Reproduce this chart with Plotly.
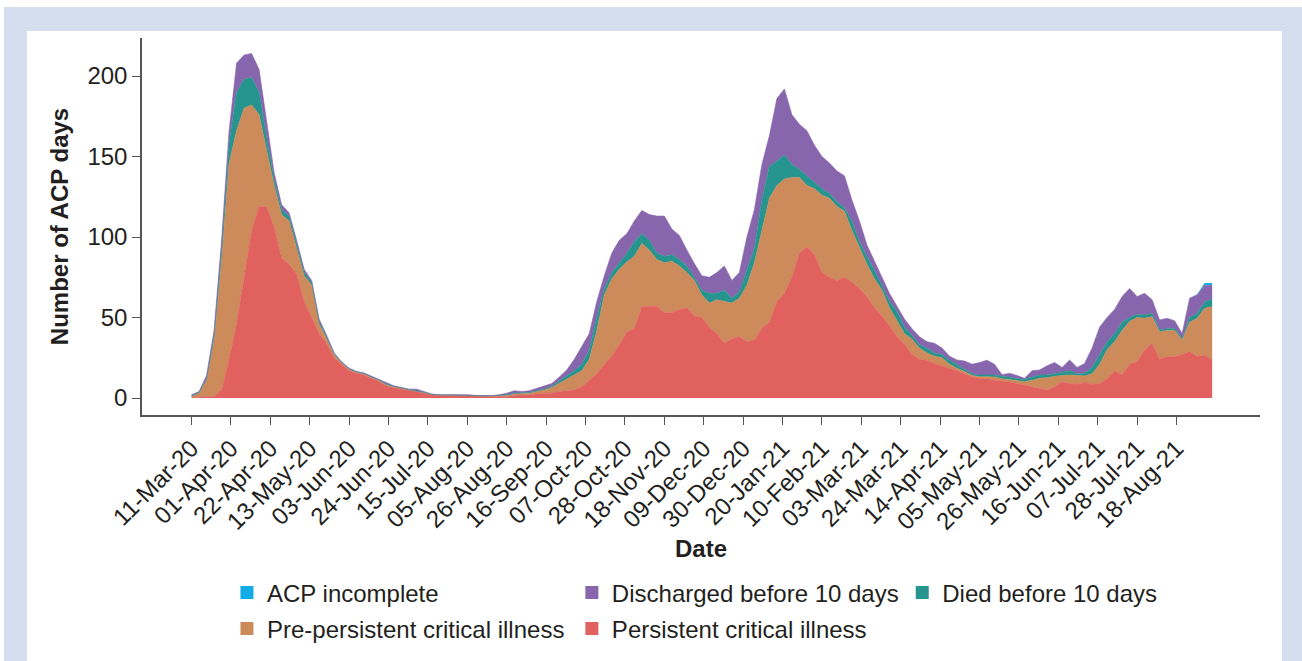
import pandas as pd
import plotly.graph_objects as go

start_date = "2020-03-11"
n_points = 137
dates = pd.date_range(start=start_date, periods=n_points, freq="4D")

persistent = [0.5, 0.5, 1, 1, 5, 24, 46, 74, 104, 119, 119, 106, 87, 83, 77, 60, 50, 40, 34, 25,
              21, 17, 15.3, 14.3, 12.2, 10.1, 7.4, 6.4, 5.4, 4.6, 4, 3, 1.8, 1.5, 1.5, 1.5, 1.5, 1.5, 1.2, 1,
              1, 1, 1, 1.5, 2, 2, 2.5, 3, 3, 4, 4.5, 5, 7, 11, 15, 21, 26, 33, 41, 43,
              57, 57, 57, 53, 53, 55, 56, 51, 50, 44, 40, 34, 37, 38, 35, 36, 43.5, 47, 60, 65,
              75, 90, 94, 89, 78, 75, 73, 75, 72, 68, 63, 56, 51, 45, 38, 33.5, 27, 24, 23.5, 21.5,
              20, 18.5, 17, 15, 13, 12.2, 12, 11, 10.5, 10, 9, 8, 7, 6, 5, 7, 10, 9, 8.5, 9.5,
              8.5, 9, 12, 17, 14.5, 21, 22.5, 30, 34, 24, 25.7, 25.7, 27, 29, 25.7, 26.7, 23.6]
pre_persistent = [0.5, 2.5, 10, 35, 81, 122, 120, 106, 78, 57, 35, 26, 27, 27, 16, 16, 20, 6, 3, 2,
                  0.8, 0.8, 0.6, 0.6, 0.6, 0.7, 0.7, 0.5, 0.5, 0.4, 0.3, 0.3, 0.3, 0.2, 0.2, 0.2, 0.2, 0.2, 0.1, 0.1,
                  0.2, 0.3, 0.5, 1, 0.8, 1, 1.5, 2, 3.5, 5, 7.5, 9, 10, 13, 27, 43, 48, 47, 43.5, 45,
                  39, 35, 29, 31, 32, 27, 22, 22, 14, 15, 21, 26, 22, 24, 35, 48, 61.5, 77, 72, 71,
                  62, 47, 38, 41, 48, 49, 46, 41, 32, 25, 20, 18, 16, 11, 10, 6.5, 9.5, 7, 4.5, 4.5,
                  5, 2.5, 1.4, 1.5, 1, 1, 1.2, 2, 1.5, 1.5, 2, 2.1, 4, 6.2, 7.5, 6.5, 4, 5.3, 5.5, 4.2,
                  6.5, 12, 18, 18, 27.5, 26.5, 27.5, 19.5, 16.5, 17, 16.3, 16.3, 9, 18, 23.8, 29, 33.1]
died = [0.5, 0.5, 1, 3, 6, 12, 24, 18, 17, 14, 8, 4, 3, 3, 3, 2, 2, 1.5, 1, 0.5,
        0.4, 0.4, 0.3, 0.3, 0.3, 0.3, 0.4, 0.3, 0.3, 0.2, 0.2, 0.2, 0.2, 0.1, 0.3, 0.1, 0.1, 0.1, 0.1, 0.2,
        0.2, 0.3, 0.5, 0.5, 0.5, 0.5, 0.5, 0.5, 1, 1.5, 2, 3, 4, 6, 8, 4, 4, 4, 5.5, 9,
        6, 6, 4, 4, 4, 4, 4, 2, 3, 6, 4, 7, 3, 4, 9, 9, 18, 20, 15, 15,
        8, 5, 6, 4, 4, 3, 3, 2, 6, 4, 5, 4, 3, 4, 6, 4, 2.5, 2, 3, 2,
        2, 2.5, 2.1, 1.5, 1, 1.1, 1.1, 1.3, 1.5, 1.5, 1, 1.5, 2, 2.1, 1.8, 1.5, 2, 2.7, 1, 1.6,
        4, 6, 5, 5, 5, 2.5, 2, 2, 2.1, 1.2, 1, 1.3, 1, 3, 3.1, 4.1, 4.6]
discharged = [0.5, 0.5, 2, 3, 6, 8, 18, 15, 15, 14, 10, 4, 3, 2, 2, 2, 1, 1.5, 1, 0.5,
              0.3, 0.3, 0.3, 0.3, 0.4, 0.4, 0.5, 0.3, 0.3, 0.3, 1, 0.5, 0.2, 0.2, 0.2, 0.2, 0.2, 0.2, 0.1, 0.2,
              0.1, 0.4, 1, 1.5, 0.7, 1, 1.5, 2, 1.5, 2.5, 3.4, 7, 11, 10, 10, 8, 12, 14, 12, 13,
              14.5, 16, 23, 25, 16, 15, 10, 8.5, 9, 10, 13, 15, 11, 12, 21, 24, 22, 19, 39, 41,
              31, 28, 28, 23, 20, 19, 19, 20, 13, 13, 7, 7, 6, 5, 3, 5, 4, 5, 4, 6,
              4, 2.5, 3.1, 5, 6, 7.7, 9.2, 6.7, 1, 2.3, 2, 0.6, 4, 3.1, 5.7, 7, 3, 6.6, 4, 6.2,
              12, 17, 15, 15, 16, 18, 11, 13.5, 8.4, 6.3, 6.5, 4.7, 3, 12, 11.4, 10.2, 8.7]
acp_incomplete = [0] * 134 + [0.5, 1.5, 1.5]

# x tick labels (every 21 days from 11-Mar-20)
tick_labels = ["11-Mar-20", "01-Apr-20", "22-Apr-20", "13-May-20", "03-Jun-20", "24-Jun-20",
               "15-Jul-20", "05-Aug-20", "26-Aug-20", "16-Sep-20", "07-Oct-20", "28-Oct-20",
               "18-Nov-20", "09-Dec-20", "30-Dec-20", "20-Jan-21", "10-Feb-21", "03-Mar-21",
               "24-Mar-21", "14-Apr-21", "05-May-21", "26-May-21", "16-Jun-21", "07-Jul-21",
               "28-Jul-21", "18-Aug-21"]
tick_dates = [pd.to_datetime(t, format="%d-%b-%y") for t in tick_labels]

series_names = ["Persistent critical illness", "Pre-persistent critical illness",
                "Died before 10 days", "Discharged before 10 days", "ACP incomplete"]
series_values = [persistent, pre_persistent, died, discharged, acp_incomplete]
colors = {
    "ACP incomplete": "#12ade6",
    "Discharged before 10 days": "#8766ad",
    "Died before 10 days": "#27958f",
    "Pre-persistent critical illness": "#cd8b5b",
    "Persistent critical illness": "#e1615f",
}

FONT = "Liberation Sans, Arial, sans-serif"
TXT = "#231f20"
AX = "#555555"

fig = go.Figure()
for name, vals in zip(series_names, series_values):
    lw = 0 if name == "ACP incomplete" else 0.6
    fig.add_trace(go.Scatter(
        x=dates, y=vals, name=name, mode="lines", stackgroup="one",
        line=dict(color=colors[name], width=lw), fillcolor=colors[name],
        showlegend=False, hoverinfo="x+y+name",
    ))

# legend entries (square swatches), each placed in its own legend box
legend_order = ["ACP incomplete", "Discharged before 10 days", "Died before 10 days",
                "Pre-persistent critical illness", "Persistent critical illness"]
legend_ids = ["legend", "legend2", "legend3", "legend4", "legend5"]
for name, lid in zip(legend_order, legend_ids):
    fig.add_trace(go.Scatter(
        x=[None], y=[None], mode="markers", name=name, legend=lid,
        marker=dict(symbol="square", size=13, color=colors[name]),
        showlegend=True,
    ))

# positions in paper coordinates (plot area: x 142..1260 px, y 38..415 px)
col_x = [0.0760, 0.3845, 0.6800]
row_y = [-0.4721, -0.5676]
legend_pos = [(col_x[0], row_y[0]), (col_x[1], row_y[0]), (col_x[2], row_y[0]),
              (col_x[0], row_y[1]), (col_x[1], row_y[1])]
leg_layout = {}
for lid, (lx, ly) in zip(legend_ids, legend_pos):
    leg_layout[lid] = dict(x=lx, y=ly, xanchor="left", yanchor="middle",
                           orientation="v", bgcolor="rgba(0,0,0,0)", borderwidth=0,
                           font=dict(family=FONT, size=24, color=TXT))

fig.update_layout(
    width=1302, height=661,
    margin=dict(l=142, r=42, t=38, b=246, autoexpand=False),
    paper_bgcolor="white", plot_bgcolor="white",
    font=dict(family=FONT, size=24, color=TXT),
    shapes=[
        dict(type="rect", xref="paper", yref="paper", x0=-0.1234, x1=1.06, y0=-0.75, y1=1.0822,
             fillcolor="#d5deef", line=dict(width=0), layer="below"),
        dict(type="rect", xref="paper", yref="paper", x0=-0.1029, x1=1.0197, y0=-0.8, y1=1.0186,
             fillcolor="white", line=dict(width=0), layer="below"),
    ],
    **leg_layout,
)

fig.update_xaxes(
    type="date", range=["2020-02-13 14:00", "2021-10-01 12:00"],
    tickmode="array", tickvals=tick_dates, ticktext=tick_labels, tickangle=-45,
    showgrid=False, zeroline=False, showline=True, linecolor=AX, linewidth=1.5,
    ticks="outside", ticklen=8, tickcolor=AX, tickwidth=1.2,
    tickfont=dict(family=FONT, size=24, color=TXT),
    title=dict(text="Date", font=dict(family=FONT, size=24, color=TXT, weight="bold"), standoff=7),
)
fig.update_yaxes(
    range=[-10.56, 223.6], tickvals=[0, 50, 100, 150, 200],
    showgrid=False, zeroline=False, showline=True, linecolor=AX, linewidth=1.5,
    ticks="outside", ticklen=8, tickcolor=AX, tickwidth=1.2,
    tickfont=dict(family=FONT, size=24, color=TXT),
    title=dict(text="Number of ACP days", font=dict(family=FONT, size=24, color=TXT, weight="bold"), standoff=12),
)

fig.write_html("out.html", config={"displayModeBar": False},
               post_script="document.body.style.margin='0';")
